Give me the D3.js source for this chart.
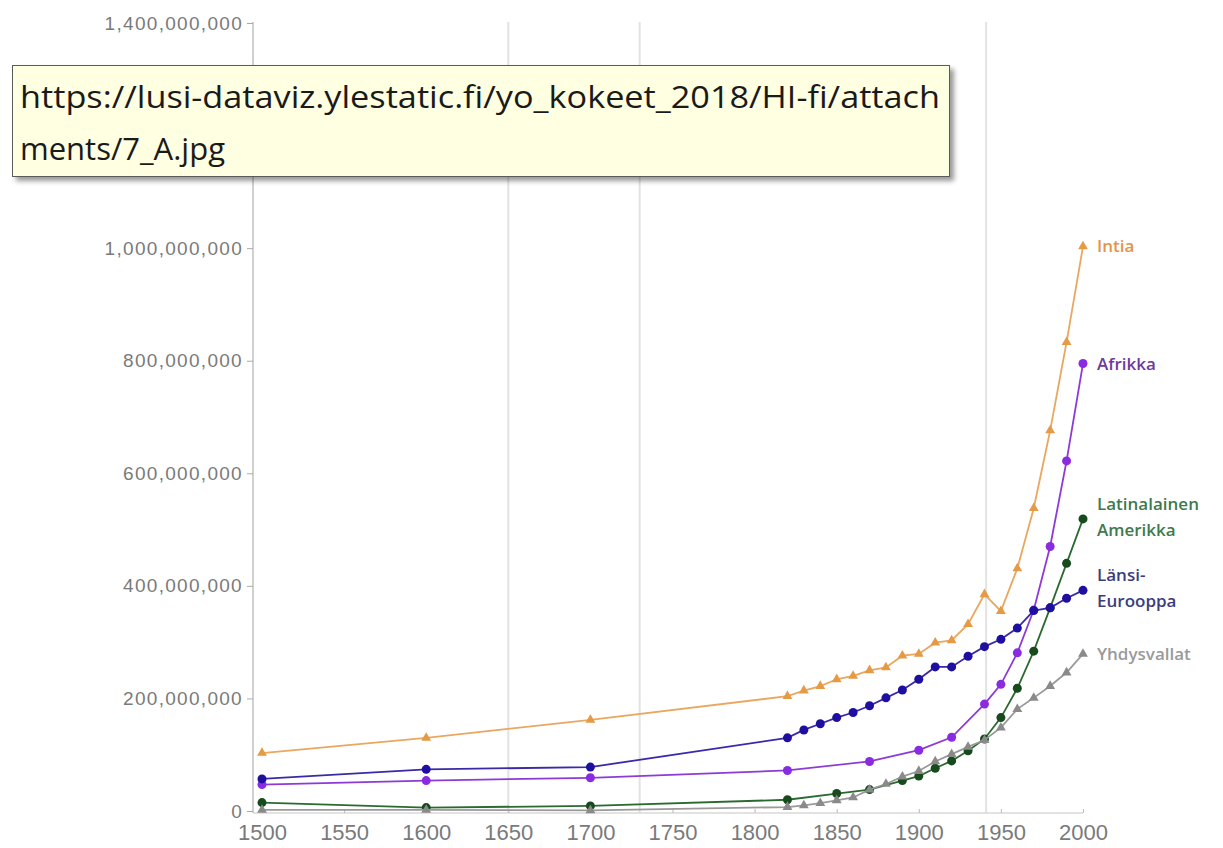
<!DOCTYPE html>
<html>
<head>
<meta charset="utf-8">
<script src="https://cdn.jsdelivr.net/npm/d3@7"></script>
<style>
  body { margin: 0; background: #fff; }
  svg { display: block; font-family: "Open Sans", "Noto Sans", sans-serif; }
  .tick text { fill: #7a7a7a; }
</style>
</head>
<body>
<svg id="chart" width="1223" height="848"></svg>
<script>
// values in millions
var yearsLong = [1500, 1600, 1700, 1820, 1830, 1840, 1850, 1860, 1870, 1880, 1890, 1900, 1910, 1920, 1930, 1940, 1950, 1960, 1970, 1980, 1990, 2000];
var yearsAfrica = [1500, 1600, 1700, 1820, 1870, 1900, 1920, 1940, 1950, 1960, 1970, 1980, 1990, 2000];
var yearsLatin = [1500, 1600, 1700, 1820, 1850, 1870, 1890, 1900, 1910, 1920, 1930, 1940, 1950, 1960, 1970, 1980, 1990, 2000];

var intia = [103, 130, 162, 204, 214, 222, 234, 240, 250, 255, 276, 279, 299, 303, 332, 385, 355, 431, 538, 676, 833, 1003];
var lansiEurooppa = [57, 74, 78, 130, 144, 155, 166, 175, 187, 201, 215, 234, 256, 256, 275, 292, 305, 325, 356, 361, 378, 392];
var afrikka = [47, 54, 59, 72, 88, 108, 131, 190, 225, 281, 357, 470, 622, 795];
var latinalainen = [15, 6, 9, 20, 31, 38, 54, 62, 76, 89, 107, 128, 166, 218, 284, 361, 440, 519];
var yhdysvallat = [2, 2, 1, 7, 10, 14, 19, 24, 38, 48, 61, 71, 88, 101, 114, 126, 148, 181, 201, 222, 246, 279];

var yTicks = [0, 200e6, 400e6, 600e6, 800e6, 1000e6, 1200e6, 1400e6];
var xTicks = [1500, 1550, 1600, 1650, 1700, 1750, 1800, 1850, 1900, 1950, 2000];
var markerYears = [1650, 1730, 1941];

var series = [
  {name: ["Intia"], years: yearsLong, vals: intia, line: "#e9a760", dot: "#e59a45", label: "#e3944a", shape: "tri"},
  {name: ["Afrikka"], years: yearsAfrica, vals: afrikka, line: "#8e3ad6", dot: "#8a2be2", label: "#6f3a9e", shape: "dot"},
  {name: ["Latinalainen", "Amerikka"], years: yearsLatin, vals: latinalainen, line: "#2a6a30", dot: "#174a1c", label: "#3f7a4c", shape: "dot"},
  {name: ["Länsi-", "Eurooppa"], years: yearsLong, vals: lansiEurooppa, line: "#3a2aa8", dot: "#1f0fa0", label: "#3b3d80", shape: "dot"},
  {name: ["Yhdysvallat"], years: yearsLong, vals: yhdysvallat, line: "#9a9a9a", dot: "#8a8a8a", label: "#9a9a9a", shape: "tri"}
];

var svg = d3.select("#chart");

var x = d3.scaleLinear().domain([1500, 2000]).range([262, 1083]);
var y = d3.scaleLinear().domain([0, 1.4e9]).range([811, 23]);

// vertical guide lines
svg.append("g")
    .selectAll("line")
    .data(markerYears)
    .enter()
    .append("line")
    .attr("x1", function (d) { return x(d); })
    .attr("x2", function (d) { return x(d); })
    .attr("y1", 22)
    .attr("y2", 813)
    .attr("stroke", "#e2e2e2")
    .attr("stroke-width", 2);

/*========== Axes ===========*/
var yAxis = svg.append("g")
    .attr("transform", "translate(253,0)")
    .call(d3.axisLeft(y).tickValues(yTicks).tickSize(6).tickPadding(4)
        // 1,200,000,000 sits under the url box in the picture
        .tickFormat(function (d) { return d === 1200e6 ? "" : d3.format(",")(d); }));
yAxis.select(".domain").attr("stroke", "#d0d0d0").attr("stroke-width", 2).attr("d", "M0,22V813");
yAxis.selectAll(".tick line").attr("stroke", "#aaa");
yAxis.selectAll(".tick text")
    .style("font-size", "19px")
    .style("letter-spacing", "1.3px");

var xAxis = svg.append("g")
    .attr("transform", "translate(0,813)")
    .call(d3.axisBottom(x).tickValues(xTicks).tickFormat(d3.format("d")).tickSize(-4));
xAxis.select(".domain").attr("stroke", "#d8d8d8").attr("stroke-width", 1.5).attr("d", "M253,0H1083");
xAxis.selectAll(".tick line").attr("stroke", "#bbb");
xAxis.selectAll(".tick text")
    .style("font-size", "22px")
    .attr("y", 27)
    .attr("dy", 0);

/*========== Series ===========*/
var line = d3.line()
    .x(function (d) { return x(d[0]); })
    .y(function (d) { return y(d[1] * 1e6); });

var tri = d3.symbol().type(d3.symbolTriangle).size(42);

series.forEach(function (s) {
    var pts = s.years.map(function (yr, i) { return [yr, s.vals[i]]; });
    var g = svg.append("g");
    g.append("path")
        .datum(pts)
        .attr("d", line)
        .attr("fill", "none")
        .attr("stroke", s.line)
        .attr("stroke-width", 1.8);
    if (s.shape === "dot") {
        g.selectAll("circle")
            .data(pts)
            .enter()
            .append("circle")
            .attr("cx", function (d) { return x(d[0]); })
            .attr("cy", function (d) { return y(d[1] * 1e6); })
            .attr("r", 4.5)
            .attr("fill", s.dot);
    } else {
        g.selectAll("path.m")
            .data(pts)
            .enter()
            .append("path")
            .attr("class", "m")
            .attr("d", tri)
            .attr("transform", function (d) { return "translate(" + x(d[0]) + "," + y(d[1] * 1e6) + ")"; })
            .attr("fill", s.dot);
    }
    var last = pts[pts.length - 1];
    var ly = y(last[1] * 1e6);
    var lab = g.append("text")
        .attr("x", x(last[0]) + 14)
        .attr("y", ly + (s.name.length > 1 ? -9 : 6))
        .attr("fill", s.label)
        .style("font-size", "17px")
        .style("font-weight", 600);
    s.name.forEach(function (t, i) {
        lab.append("tspan")
            .attr("x", x(last[0]) + 14)
            .attr("dy", i === 0 ? 0 : 26)
            .text(t);
    });
});

/*========== Tooltip box ===========*/
var defs = svg.append("defs");
var f = defs.append("filter").attr("id", "shadow").attr("x", "-5%").attr("y", "-20%").attr("width", "115%").attr("height", "150%");
f.append("feDropShadow").attr("dx", 4).attr("dy", 4).attr("stdDeviation", 2.5).attr("flood-color", "#000").attr("flood-opacity", 0.4);

var tip = svg.append("g");
tip.append("rect")
    .attr("x", 12.5)
    .attr("y", 65.5)
    .attr("width", 937)
    .attr("height", 111)
    .attr("fill", "#ffffe1")
    .attr("stroke", "#5a5a5a")
    .attr("stroke-width", 1)
    .attr("filter", "url(#shadow)");
tip.append("text")
    .attr("x", 20)
    .attr("y", 108)
    .attr("fill", "#1a1a1a")
    .attr("textLength", 920)
    .attr("lengthAdjust", "spacingAndGlyphs")
    .style("font-size", "31px")
    .text("https://lusi-dataviz.ylestatic.fi/yo_kokeet_2018/HI-fi/attach");
tip.append("text")
    .attr("x", 20)
    .attr("y", 160)
    .attr("fill", "#1a1a1a")
    .style("font-size", "31px")
    .text("ments/7_A.jpg");
</script>
</body>
</html>
